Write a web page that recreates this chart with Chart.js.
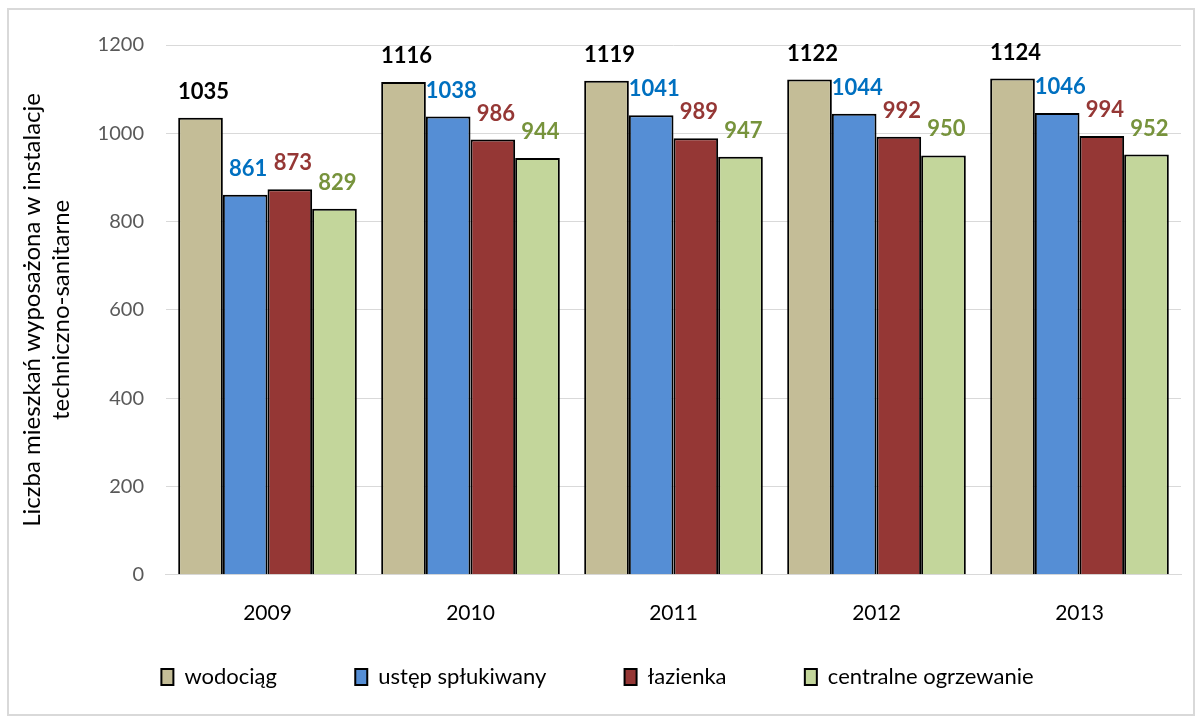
<!DOCTYPE html>
<html>
<head>
<meta charset="utf-8">
<script src="https://cdn.jsdelivr.net/npm/chart.js@4"></script>
<style>
  body { margin: 0; background: #fff; }
  #wrap { width: 1203px; height: 722px; }
</style>
</head>
<body>
<div id="wrap"><canvas id="grafico" width="1203" height="722"></canvas></div>
<script>
var lata = ["2009", "2010", "2011", "2012", "2013"];
var wodociag = [1035, 1116, 1119, 1122, 1124];
var ustep = [861, 1038, 1041, 1044, 1046];
var lazienka = [873, 986, 989, 992, 994];
var ogrzewanie = [829, 944, 947, 950, 952];
var yTicks = [0, 200, 400, 600, 800, 1000, 1200];

var fontName = "Lato, 'Open Sans', sans-serif";
var odstep = "          "; // odstep miedzy pozycjami legendy

// ramka + etykiety nad slupkami
var ramka = {
  id: "ramka",
  beforeDraw: function (chart) {
    var c = chart.ctx;
    c.save();
    c.fillStyle = "#fff";
    c.fillRect(0, 0, chart.width, chart.height);
    c.strokeStyle = "#D9D9D9";
    c.lineWidth = 2;
    c.strokeRect(8, 9, 1186, 706);
    c.restore();
  },
  afterDatasetsDraw: function (chart) {
    var c = chart.ctx;
    c.save();
    c.font = "bold 22px " + fontName;
    c.textAlign = "center";
    c.textBaseline = "middle";
    chart.data.datasets.forEach(function (ds, i) {
      var meta = chart.getDatasetMeta(i);
      meta.data.forEach(function (bar, j) {
        c.fillStyle = ds.labelColor;
        c.fillText(ds.data[j], bar.x + 3, bar.y - 26);
      });
    });
    c.restore();
  }
};

var ctx = document.getElementById("grafico").getContext("2d");
var myChart = new Chart(ctx, {
  type: "bar",
  data: {
    labels: lata,
    datasets: [
      { label: "wodociąg", data: wodociag, backgroundColor: "#C4BD97", labelColor: "#000000" },
      { label: "ustęp spłukiwany", data: ustep, backgroundColor: "#558ED5", labelColor: "#0070C0" },
      { label: "łazienka", data: lazienka, backgroundColor: "#953735", labelColor: "#953735" },
      { label: "centralne ogrzewanie", data: ogrzewanie, backgroundColor: "#C3D69B", labelColor: "#77933C" }
    ].map(function (d) {
      d.borderColor = "#000";
      d.borderWidth = 2;
      d.borderSkipped = "bottom";
      d.categoryPercentage = 0.88;
      d.barPercentage = 1.0;
      return d;
    })
  },
  options: {
    responsive: false,
    animation: false,
    layout: { padding: { left: 14, right: 22, top: 45, bottom: 24 } },
    plugins: {
      legend: {
        position: "bottom",
        labels: {
          color: "#000",
          font: { family: fontName, size: 22 },
          boxWidth: 12,
          boxHeight: 16,
          padding: 22,
          generateLabels: function (chart) {
            var n = chart.data.datasets.length;
            return chart.data.datasets.map(function (ds, i) {
              return {
                text: i < n - 1 ? ds.label + odstep : ds.label,
                fillStyle: ds.backgroundColor,
                strokeStyle: "#000",
                lineWidth: 2,
                datasetIndex: i
              };
            });
          }
        }
      },
      tooltip: { enabled: false }
    },
    scales: {
      x: {
        grid: { display: false },
        border: { color: "#D9D9D9", width: 1 },
        ticks: { color: "#000", font: { family: fontName, size: 21 }, padding: 18 }
      },
      y: {
        min: 0,
        max: 1200,
        afterBuildTicks: function (axis) {
          axis.ticks = yTicks.map(function (v) { return { value: v }; });
        },
        grid: { color: "#D9D9D9", lineWidth: 1, drawTicks: false },
        border: { display: false },
        ticks: {
          color: "#595959",
          font: { family: fontName, size: 20 },
          padding: 22,
          callback: function (v) { return String(v); }
        },
        title: {
          display: true,
          text: ["Liczba mieszkań wyposażona w instalacje", "techniczno-sanitarne"],
          color: "#000",
          font: { family: fontName, size: 24, lineHeight: 1.2 },
          padding: { bottom: 0 }
        }
      }
    }
  },
  plugins: [ramka]
});
</script>
</body>
</html>
